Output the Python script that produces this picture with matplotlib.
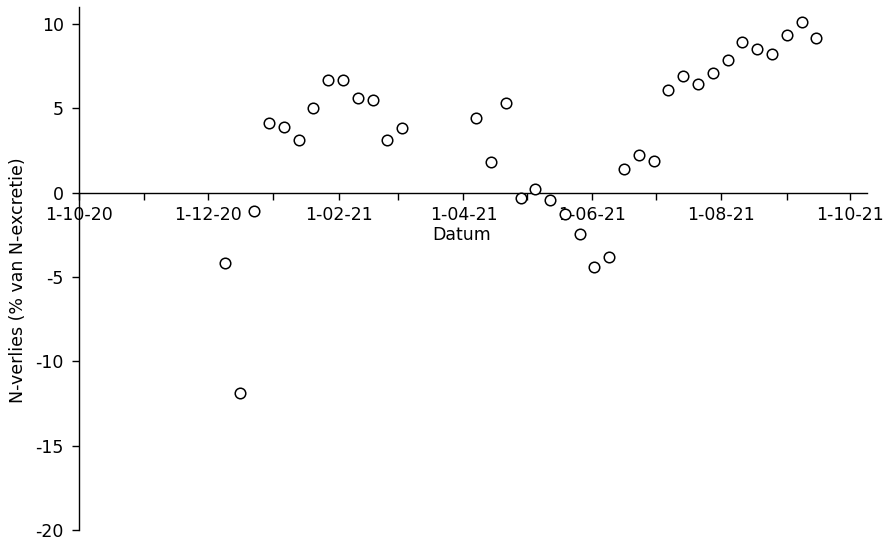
import datetime as dt
import matplotlib
matplotlib.use("Agg")
import matplotlib.pyplot as plt
import matplotlib.dates as mdates
from matplotlib.ticker import FuncFormatter

plt.rcParams['font.family'] = ['DejaVu Sans']
plt.rcParams['axes.unicode_minus'] = False

datums = [
    "2020-12-09", "2020-12-16", "2020-12-23", "2020-12-30",
    "2021-01-06", "2021-01-13", "2021-01-20", "2021-01-27",
    "2021-02-03", "2021-02-10", "2021-02-17", "2021-02-24",
    "2021-03-03",
    "2021-04-07", "2021-04-14", "2021-04-21", "2021-04-28",
    "2021-05-05", "2021-05-12", "2021-05-19", "2021-05-26",
    "2021-06-02", "2021-06-09", "2021-06-16", "2021-06-23",
    "2021-06-30", "2021-07-07", "2021-07-14", "2021-07-21",
    "2021-07-28", "2021-08-04", "2021-08-11", "2021-08-18",
    "2021-08-25", "2021-09-01", "2021-09-08", "2021-09-15",
]
n_verlies = [
    -4.2, -11.9, -1.1, 4.1,
    3.9, 3.1, 5.0, 6.7,
    6.7, 5.6, 5.5, 3.1,
    3.8,
    4.45, 1.8, 5.3, -0.3,
    0.2, -0.45, -1.25, -2.45,
    -4.4, -3.8, 1.4, 2.25,
    1.9, 6.1, 6.9, 6.45,
    7.1, 7.85, 8.9, 8.5,
    8.2, 9.35, 10.1, 9.15,
]

x = [dt.datetime.strptime(d, "%Y-%m-%d") for d in datums]

fig = plt.figure(figsize=(8.85, 5.4), dpi=100)
ax = fig.add_axes([79/885, 1 - 530/540, (867 - 79)/885, (530 - 7)/540])

ax.plot(x, n_verlies, linestyle='none', marker='o', markersize=7.6,
        markerfacecolor='white', markeredgecolor='black', markeredgewidth=1.1,
        zorder=3, clip_on=False)

ax.set_xlim(dt.datetime(2020, 10, 1), dt.datetime(2021, 10, 9))
ax.set_ylim(-20, 11)
ax.set_yticks([-20, -15, -10, -5, 0, 5, 10])

ax.xaxis.set_major_locator(mdates.MonthLocator(bymonth=[2, 4, 6, 8, 10, 12]))
ax.xaxis.set_minor_locator(mdates.MonthLocator(bymonth=[1, 3, 5, 7, 9, 11]))

def datum_fmt(v, pos):
    d = mdates.num2date(v)
    return f"{d.day}-{d.month:02d}-{d.year % 100:02d}"

ax.xaxis.set_major_formatter(FuncFormatter(datum_fmt))

ax.spines['top'].set_visible(False)
ax.spines['right'].set_visible(False)
ax.spines['bottom'].set_position(('data', 0))
for s in ['left', 'bottom']:
    ax.spines[s].set_linewidth(1.0)

ax.tick_params(axis='both', which='both', direction='out', width=1.0, labelsize=12.5)
ax.tick_params(axis='x', which='major', length=5, pad=5)
ax.tick_params(axis='x', which='minor', length=5)
ax.tick_params(axis='y', length=5, pad=6)

fig.text(462/885, 1 - 235/540, "Datum", ha='center', va='center', fontsize=12.5)
fig.text(18/885, 1 - 280/540, "N-verlies (% van N-excretie)", ha='center', va='center',
         rotation=90, fontsize=12.5)

fig.savefig("out.png", dpi=100)
